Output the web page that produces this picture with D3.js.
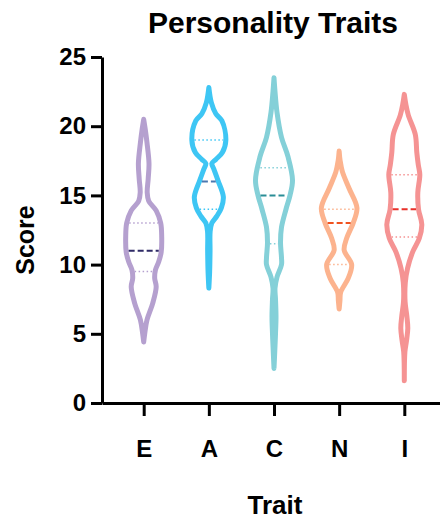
<!DOCTYPE html>
<html>
<head>
<meta charset="utf-8">
<script src="https://cdn.jsdelivr.net/npm/d3@7"></script>
<style>
  body { margin: 0; background: #fff; }
  text { font-family: "Liberation Sans", Arial, sans-serif; font-weight: bold; }
</style>
</head>
<body>
<svg width="440" height="521"></svg>
<script>
// categories and summary stats
const categories = ["E", "A", "C", "N", "I"];
const medians   = [11, 16, 15, 13, 14];
const quartile1 = [9.5, 14, 11.5, 10, 12];
const quartile3 = [13, 19, 17, 14, 16.5];
const yTicks = [0, 5, 10, 15, 20, 25];

// density outline per trait: [score, relative density]
const densityE = [[20.5,0],[19.8,1.5],[18.8,3.3],[17.3,5.3],[16.2,4.5],[15.2,3.5],[14.6,5],[13.9,12.5],[13.0,17],[12.0,18],[10.9,17.5],[10.2,15],[9.6,11.7],[9.0,11],[8.4,12.5],[7.2,9],[6.0,3.3],[5.0,1],[4.4,0]];
const densityA = [[22.8,0],[21.7,2.5],[20.9,7],[20.4,13],[19.0,17],[18.1,13.5],[17.6,7],[17.3,3],[16.9,5],[16.1,9],[14.9,14.5],[14.1,12.5],[13.5,8],[13.0,3],[12.4,1.3],[11,1.2],[9.5,0.8],[8.3,0]];
const densityC = [[23.5,0],[22.5,1],[21.0,3],[19.2,7.5],[17.8,14],[16.1,18.5],[15.0,16],[14.0,12],[12.7,7.5],[11.6,6.5],[10.5,7.5],[10.0,7.5],[9.1,3],[8.3,1],[7.5,1.5],[6.2,2],[5.0,1.5],[3.8,0.8],[2.5,0]];
const densityN = [[18.2,0],[17.5,1],[16.7,3.3],[15.5,10],[14.1,17.8],[13.0,14],[11.9,7.5],[11.05,5],[10.0,12.5],[9.0,9],[8.0,1.5],[7.4,0.8],[6.8,0]];
const densityI = [[22.3,0],[21.6,1.5],[20.8,4],[19.4,11],[18.1,12.5],[17.2,14],[16.5,15.5],[15.2,13.5],[14.0,14.2],[12.9,17.5],[11.9,15],[10.9,8.3],[9.75,3.3],[8.7,1],[7.3,0.8],[6.3,2.5],[5.4,3.5],[4.5,2.2],[3.7,0.6],[1.6,0]];
const densities = [densityE, densityA, densityC, densityN, densityI];

const colors      = ["#b5a0cf", "#3ec6f4", "#84d0d8", "#fcb38e", "#f59393"];
const medianColor = ["#2e2a66", "#4a78b0", "#2a8d96", "#f05220", "#e8302a"];

const svg = d3.select("svg");

const y = d3.scaleLinear().domain([0, 25]).range([403, 57]);
const x = d3.scalePoint().domain(categories).range([102, 446]).padding(0.64);
const w = d3.scaleLinear().domain([0, 20]).range([0, 20]); // density -> half width

// title
svg.append("text")
    .attr("x", 273)
    .attr("y", 33)
    .attr("text-anchor", "middle")
    .style("font-size", "30px")
    .text("Personality Traits");

// Y axis
const yAxis = svg.append("g")
    .attr("transform", "translate(102,0)")
    .call(d3.axisLeft(y).tickValues(yTicks).tickSize(11).tickSizeOuter(0).tickPadding(5));
yAxis.selectAll("text").style("font-size", "24px").attr("fill", "#000");

// X axis
const xAxis = svg.append("g")
    .attr("transform", "translate(0,403)")
    .call(d3.axisBottom(x).tickSize(13).tickSizeOuter(0).tickPadding(24));
xAxis.selectAll("text").style("font-size", "24px").attr("fill", "#000");

svg.selectAll(".domain, .tick line")
    .attr("stroke", "#000")
    .attr("stroke-width", 3);

// axis titles
svg.append("text")
    .attr("transform", "translate(34,240) rotate(-90)")
    .attr("text-anchor", "middle")
    .style("font-size", "25px")
    .text("Score");

svg.append("text")
    .attr("x", 275)
    .attr("y", 514)
    .attr("text-anchor", "middle")
    .style("font-size", "26px")
    .text("Trait");

// violins
categories.forEach((c, i) => {
    const cx = x(c);
    const dens = densities[i];
    const area = d3.area()
        .curve(d3.curveCatmullRom)
        .y(d => y(d[0]))
        .x0(d => cx - w(d[1]))
        .x1(d => cx + w(d[1]));

    const g = svg.append("g");
    g.append("path")
        .datum(dens)
        .attr("d", area)
        .attr("fill", "#fff")
        .attr("stroke", colors[i])
        .attr("stroke-width", 5)
        .attr("stroke-linejoin", "round")
        .attr("stroke-linecap", "round");

    // width of the violin at a given score
    const widthAt = d3.scaleLinear()
        .domain(dens.map(d => d[0]))
        .range(dens.map(d => w(d[1])));

    const lines = [
        { v: quartile1[i], color: colors[i], dash: "1.5,2.5", sw: 1.5 },
        { v: quartile3[i], color: colors[i], dash: "1.5,2.5", sw: 1.5 },
        { v: medians[i], color: medianColor[i], dash: "6,3", sw: 2 }
    ];
    lines.forEach(l => {
        const hw = Math.max(widthAt(l.v) - 2.5, 1);
        g.append("line")
            .attr("x1", cx - hw)
            .attr("x2", cx + hw)
            .attr("y1", y(l.v))
            .attr("y2", y(l.v))
            .attr("stroke", l.color)
            .attr("stroke-width", l.sw)
            .attr("stroke-dasharray", l.dash);
    });
});
</script>
</body>
</html>
